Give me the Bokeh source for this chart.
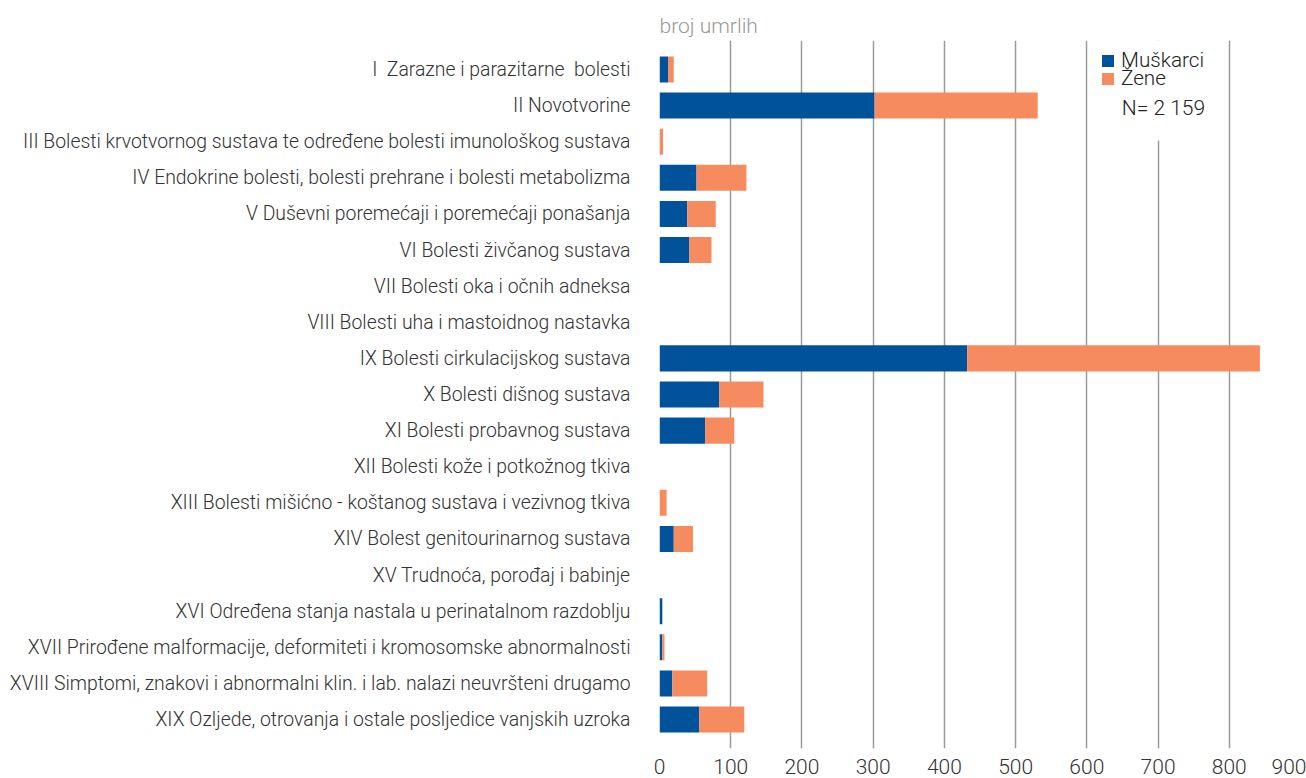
from bokeh.plotting import figure
from bokeh.models import (FactorRange, Range1d, ColumnDataSource, Legend, LegendItem,
                          BoxAnnotation, Label, FixedTicker)
from bokeh.embed import file_html
from bokeh.resources import INLINE

categories = [
    "I \u00a0Zarazne i parazitarne \u00a0bolesti",
    "II Novotvorine",
    "III Bolesti krvotvornog sustava te određene bolesti imunološkog sustava",
    "IV Endokrine bolesti, bolesti prehrane i bolesti metabolizma",
    "V Duševni poremećaji i poremećaji ponašanja",
    "VI Bolesti živčanog sustava",
    "VII Bolesti oka i očnih adneksa",
    "VIII Bolesti uha i mastoidnog nastavka",
    "IX Bolesti cirkulacijskog sustava",
    "X Bolesti dišnog sustava",
    "XI Bolesti probavnog sustava",
    "XII Bolesti kože i potkožnog tkiva",
    "XIII Bolesti mišićno - koštanog sustava i vezivnog tkiva",
    "XIV Bolest genitourinarnog sustava",
    "XV Trudnoća, porođaj i babinje",
    "XVI Određena stanja nastala u perinatalnom razdoblju",
    "XVII Prirođene malformacije, deformiteti i kromosomske abnormalnosti",
    "XVIII Simptomi, znakovi i abnormalni klin. i lab. nalazi neuvršteni drugamo",
    "XIX Ozljede, otrovanja i ostale posljedice vanjskih uzroka",
]
muskarci = [12, 302, 0, 52, 39, 42, 0, 0, 432, 84, 64, 0, 0, 20, 0, 4, 4, 18, 56]
zene = [8, 229, 5, 70, 40, 31, 0, 0, 411, 62, 41, 0, 10, 27, 0, 0, 3, 49, 63]
x_ticks = [0, 100, 200, 300, 400, 500, 600, 700, 800, 900]
series_names = ["Muškarci", "Žene"]
n_text = "N= 2 159"
title_text = "broj umrlih"

FONT = "Roboto Light"
BLUE = "#00539A"
ORANGE = "#F78B60"

src = ColumnDataSource(dict(
    cat=categories,
    m=muskarci,
    z=zene,
    mz=[a + b for a, b in zip(muskarci, zene)],
    zero=[0] * len(categories),
))

yr = FactorRange(factors=list(reversed(categories)), range_padding=0.3,
                 range_padding_units="absolute")

p = figure(width=1306, height=778, y_range=yr, x_range=Range1d(0, 900),
           output_backend="svg", toolbar_location=None,
           min_border_left=659, min_border_right=6, min_border_top=40,
           min_border_bottom=30)

p.title.text = title_text
p.title.text_font = FONT
p.title.text_font_size = "21px"
p.title.text_color = "#999999"
p.title.text_font_style = "normal"
p.title.align = "left"
p.title.standoff = 6

r1 = p.hbar(y="cat", left="zero", right="m", height=0.72, source=src,
            fill_color=BLUE, line_color=None)
r2 = p.hbar(y="cat", left="m", right="mz", height=0.72, source=src,
            fill_color=ORANGE, line_color=None)

p.outline_line_color = None
p.background_fill_color = "white"
p.border_fill_color = "white"

p.xgrid.grid_line_color = "#9a9a9a"
p.xgrid.grid_line_width = 1.5
p.ygrid.grid_line_color = None
p.xaxis.ticker = FixedTicker(ticks=x_ticks)
p.xaxis.axis_line_color = None
p.xaxis.major_tick_line_color = None
p.xaxis.minor_tick_line_color = None
p.xaxis.major_label_text_font = FONT
p.xaxis.major_label_text_font_size = "21px"
p.xaxis.major_label_text_color = "#333333"
p.xaxis.major_label_standoff = 4

p.yaxis.axis_line_color = None
p.yaxis.major_tick_line_color = None
p.yaxis.minor_tick_line_color = None
p.yaxis.major_label_text_font = FONT
p.yaxis.major_label_text_font_size = "19.4px"
p.yaxis.major_label_text_color = "#333333"
p.yaxis.major_label_standoff = 23

# white patch hiding the top of the 700 gridline behind the legend
box = BoxAnnotation(left=612, right=781, bottom=16.53, top=19.3,
                    fill_color="white", fill_alpha=1.0, line_color=None)
p.add_layout(box)


def make_legend(name, renderer, loc):
    lg = Legend(items=[LegendItem(label=name, renderers=[renderer])], location=loc)
    lg.border_line_color = None
    lg.background_fill_alpha = 0
    lg.padding = 0
    lg.margin = 0
    lg.spacing = 0
    lg.glyph_width = 15
    lg.glyph_height = 15
    lg.label_height = 15
    lg.label_standoff = 6
    lg.label_text_font = FONT
    lg.label_text_font_size = "20.7px"
    lg.label_text_color = "#222222"
    return lg


p.add_layout(make_legend(series_names[0], r1, (441, 676)), "center")
p.add_layout(make_legend(series_names[1], r2, (441, 658)), "center")

p.add_layout(Label(x=649, y=17.42, text=n_text, text_font=FONT,
                   text_font_size="21px", text_color="#222222",
                   text_baseline="middle", text_align="left"))

open("out.html", "w").write(file_html(p, INLINE))
